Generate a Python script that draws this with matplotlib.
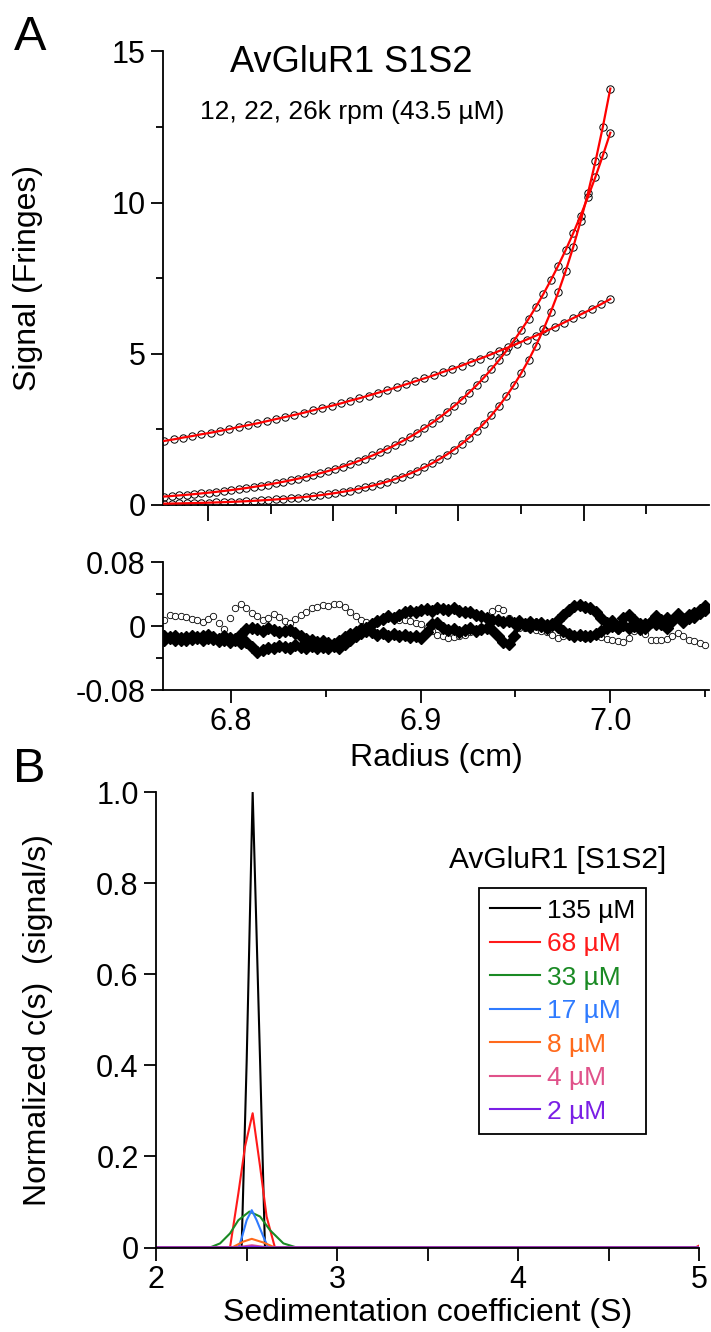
import numpy as np
import matplotlib
matplotlib.use("Agg")
import matplotlib.pyplot as plt
from matplotlib.lines import Line2D

plt.rcParams['font.family'] = ['Liberation Sans', 'DejaVu Sans']

# --- panel A: equilibrium profiles (fringes) at 12k, 22k, 26k rpm ---
r12 = np.linspace(6.765, 7.0, 49)
sig12 = [2.12, 2.17, 2.23, 2.28, 2.34, 2.39, 2.45, 2.51, 2.58, 2.64,
         2.70, 2.77, 2.84, 2.91, 2.98, 3.05, 3.13, 3.21, 3.28, 3.36,
         3.45, 3.53, 3.62, 3.71, 3.80, 3.89, 3.99, 4.09, 4.19, 4.29,
         4.40, 4.50, 4.61, 4.73, 4.84, 4.96, 5.09, 5.21, 5.34, 5.47,
         5.60, 5.74, 5.88, 6.03, 6.18, 6.33, 6.48, 6.64, 6.81]

r22 = np.linspace(6.765, 7.0, 61)
sig22 = [0.280, 0.298, 0.318, 0.338, 0.360, 0.384, 0.409, 0.435, 0.464, 0.494,
         0.526, 0.560, 0.597, 0.636, 0.677, 0.721, 0.768, 0.818, 0.871, 0.928,
         0.988, 1.053, 1.121, 1.194, 1.272, 1.355, 1.443, 1.537, 1.637, 1.743,
         1.857, 1.978, 2.106, 2.243, 2.389, 2.545, 2.711, 2.887, 3.075, 3.275,
         3.488, 3.715, 3.957, 4.215, 4.489, 4.781, 5.092, 5.424, 5.777, 6.153,
         6.554, 6.980, 7.435, 7.919, 8.434, 8.983, 9.568, 10.19, 10.85, 11.56,
         12.31]
sig26 = [0.044, 0.048, 0.053, 0.058, 0.064, 0.070, 0.077, 0.085, 0.094, 0.103,
         0.114, 0.125, 0.138, 0.152, 0.167, 0.184, 0.202, 0.222, 0.245, 0.269,
         0.296, 0.326, 0.359, 0.395, 0.435, 0.479, 0.527, 0.580, 0.639, 0.703,
         0.774, 0.852, 0.938, 1.032, 1.136, 1.250, 1.376, 1.515, 1.668, 1.835,
         2.020, 2.224, 2.448, 2.694, 2.965, 3.264, 3.593, 3.955, 4.353, 4.791,
         5.274, 5.805, 6.390, 7.033, 7.742, 8.521, 9.380, 10.32, 11.36, 12.51,
         13.77]

# --- residuals (fringes), values in units of 0.001 ---
r_res = np.linspace(6.765, 7.05, 100)
res_open = np.array([8, 14, 13, 12, 11, 9, 7, 5, 9, 12,
                     4, -4, 10, 22, 27, 22, 16, 12, 8, 10,
                     15, 11, 6, 4, 9, 14, 18, 22, 24, 26,
                     25, 27, 28, 24, 18, 13, 8, 5, 3, 4,
                     8, 11, 10, 8, 7, 6, 4, 3, -2, -6,
                     -11, -13, -15, -14, -13, -11, -8, -5, -1, 9,
                     19, 22, 20, 10, 3, -3, -2, -3, -5, -6,
                     -7, -11, -15, -12, -9, -11, -14, -15, -14, -13,
                     -14, -16, -18, -19, -20, -15, -6, -3, -10, -17,
                     -18, -17, -16, -12, -9, -13, -17, -19, -21, -24]) * 1e-3
res_fill1 = np.array([-12, -15, -13, -17, -14, -12, -15, -13, -11, -14,
                      -16, -13, -15, -16, -10, -4, -2, -4, -6, -3,
                      -5, -8, -6, -5, -9, -13, -16, -18, -20, -19,
                      -21, -22, -19, -14, -10, -7, -4, -2, 2, 6,
                      9, 12, 10, 14, 17, 19, 18, 20, 21, 19,
                      22, 21, 20, 22, 19, 17, 18, 14, 12, 10,
                      7, 8, 5, 6, 4, 6, 3, 5, 2, 4,
                      1, 3, 8, 14, 20, 25, 26, 24, 22, 18,
                      10, 4, 6, -2, 10, 14, 8, 2, -3, 5,
                      12, 3, -2, 8, 15, 5, 10, 16, 20, 25]) * 1e-3
res_fill2 = np.array([-18, -14, -17, -15, -18, -16, -14, -17, -15, -16,
                      -19, -17, -20, -18, -21, -20, -26, -33, -30, -27,
                      -28, -25, -26, -27, -24, -26, -28, -25, -27, -26,
                      -28, -25, -27, -23, -18, -13, -9, -6, -8, -11,
                      -9, -12, -10, -13, -11, -14, -12, -15, -8, 2,
                      4, -2, -5, -4, -7, -5, -3, -6, -4, -2,
                      -5, -12, -20, -23, -12, 3, 1, -1, 2, 0,
                      -2, 1, -1, -6, -10, -12, -11, -13, -12, -10,
                      -6, -2, 0, -3, 1, -2, 0, -4, 2, 5,
                      3, 8, 10, 6, 12, 9, 14, 11, 16, 20]) * 1e-3

# --- panel B: normalized c(s) ---
conc_labels = ['135 µM', '68 µM', '33 µM', '17 µM', '8 µM', '4 µM', '2 µM']
line_colors = ['#000000', '#ff1a1a', '#1a8a24', '#2f7bff', '#ff6a1c', '#e0528a', '#7a1fe6']
s_vals = [
    [2.0, 2.473, 2.501, 2.534, 2.575, 2.602, 5.0],
    [2.0, 2.409, 2.455, 2.492, 2.534, 2.575, 2.611, 2.657, 4.98, 5.0],
    [2.0, 2.298, 2.354, 2.409, 2.455, 2.516, 2.575, 2.630, 2.704, 2.777, 5.0],
    [2.0, 2.455, 2.473, 2.501, 2.529, 2.556, 2.593, 2.620, 5.0],
    [2.0, 2.420, 2.483, 2.529, 2.593, 2.657, 5.0],
    [2.0, 2.440, 2.530, 2.620, 5.0],
    [2.0, 2.450, 2.530, 2.610, 5.0],
]
cs_vals = [
    [0, 0, 0.41, 1.0, 0.41, 0, 0],
    [0, 0, 0.119, 0.222, 0.295, 0.178, 0.068, 0, 0, 0.004],
    [0, 0, 0.009, 0.031, 0.060, 0.079, 0.068, 0.038, 0.009, 0, 0],
    [0, 0, 0.020, 0.060, 0.082, 0.060, 0.024, 0, 0],
    [0, 0, 0.013, 0.019, 0.011, 0, 0],
    [0, 0, 0.005, 0, 0],
    [0, 0, 0.002, 0, 0],
]

W, H = 711, 1332
fig = plt.figure(figsize=(W / 100, H / 100), dpi=100)

def style_axes(ax):
    for side in ('top', 'right'):
        ax.spines[side].set_visible(False)
    for side in ('left', 'bottom'):
        ax.spines[side].set_linewidth(1.3)
    ax.tick_params(which='both', direction='out', width=1.3, labelsize=22)
    ax.tick_params(which='major', length=9)
    ax.tick_params(which='minor', length=5)

# top panel
axA = fig.add_axes([163 / W, 1 - 505 / H, 546 / W, 453.6 / H])
style_axes(axA)
for r, sig in ((r12, sig12), (r22, sig22), (r22, sig26)):
    axA.plot(r, sig, 'o', ms=5.3, mfc='none', mec='k', mew=0.7, zorder=2)
    axA.plot(r, sig, '-', color='#ff0000', lw=1.6, zorder=3)
axA.set_xlim(6.7643, 7.052)
axA.set_ylim(0, 15)
axA.set_yticks([0, 5, 10, 15])
axA.set_yticks([2.5, 7.5, 12.5], minor=True)
axA.set_xticks([6.788, 6.854, 6.920, 6.986])
axA.set_xticks([6.821, 6.887, 6.953, 7.019], minor=True)
axA.tick_params(axis='x', which='major', length=11.5, labelbottom=False)
axA.tick_params(axis='x', which='minor', length=6.5)
axA.set_ylabel('Signal (Fringes)', fontsize=23)
axA.yaxis.set_label_coords((43 - 163) / 546, 0.5)
fig.text(351 / W, 1 - 63 / H, 'AvGluR1 S1S2', fontsize=26, ha='center', va='center')
fig.text(352 / W, 1 - 112 / H, '12, 22, 26k rpm (43.5 µM)', fontsize=19, ha='center', va='center')

# residuals
axR = fig.add_axes([163 / W, 1 - 690 / H, 546 / W, 128 / H])
style_axes(axR)
axR.plot(r_res, res_open, 'o', ms=4.6, mfc='white', mec='k', mew=0.6, zorder=2)
for res in (res_fill1, res_fill2):
    axR.plot(r_res, res, '-', color='k', lw=3.5, zorder=3)
    axR.plot(r_res, res, 'D', ms=6, color='k', zorder=3)
axR.set_xlim(6.7643, 7.052)
axR.set_ylim(-0.08, 0.08)
axR.set_yticks([-0.08, 0, 0.08])
axR.set_yticklabels(['-0.08', '0', '0.08'])
axR.set_yticks([-0.04, 0.04], minor=True)
axR.set_xticks([6.8, 6.9, 7.0])
axR.set_xticklabels(['6.8', '6.9', '7.0'])
axR.set_xticks([6.85, 6.95, 7.05], minor=True)
axR.set_xlabel('Radius (cm)', fontsize=23, labelpad=4)

# panel B
axB = fig.add_axes([156 / W, 1 - 1247.5 / H, 543 / W, 455.2 / H])
style_axes(axB)
for s, c, col in zip(s_vals, cs_vals, line_colors):
    axB.plot(s, c, '-', color=col, lw=1.5)
axB.set_xlim(2, 5)
axB.set_ylim(0, 1.0)
axB.set_xticks([2, 3, 4, 5])
axB.set_xticks([2.5, 3.5, 4.5], minor=True)
axB.tick_params(axis='x', which='minor', length=9)
axB.set_yticks([0, 0.2, 0.4, 0.6, 0.8, 1.0])
axB.set_yticklabels(['0', '0.2', '0.4', '0.6', '0.8', '1.0'])
axB.set_xlabel('Sedimentation coefficient (S)', fontsize=23, labelpad=2)
axB.set_ylabel('Normalized c(s)  (signal/s)', fontsize=23)
axB.yaxis.set_label_coords((53 - 156) / 543, 0.5)

handles = [Line2D([], [], color=col, lw=1.5) for col in line_colors]
leg = fig.legend(handles, conc_labels, loc='upper left',
                 bbox_to_anchor=(479 / W, 1 - 888 / H), bbox_transform=fig.transFigure,
                 fontsize=19, frameon=True, fancybox=False, framealpha=1,
                 edgecolor='k', handlelength=1.9, handletextpad=0.28,
                 labelspacing=0.36, borderpad=0.4, borderaxespad=0)
leg.get_frame().set_linewidth(1.3)
for txt, col in zip(leg.get_texts(), line_colors):
    txt.set_color(col)
fig.text(558 / W, 1 - 860 / H, 'AvGluR1 [S1S2]', fontsize=21.5, ha='center', va='center')

fig.text(14 / W, 1 - 37 / H, 'A', fontsize=35, ha='left', va='center')
fig.text(13 / W, 1 - 770 / H, 'B', fontsize=35, ha='left', va='center')

fig.savefig('out.png', dpi=100)
